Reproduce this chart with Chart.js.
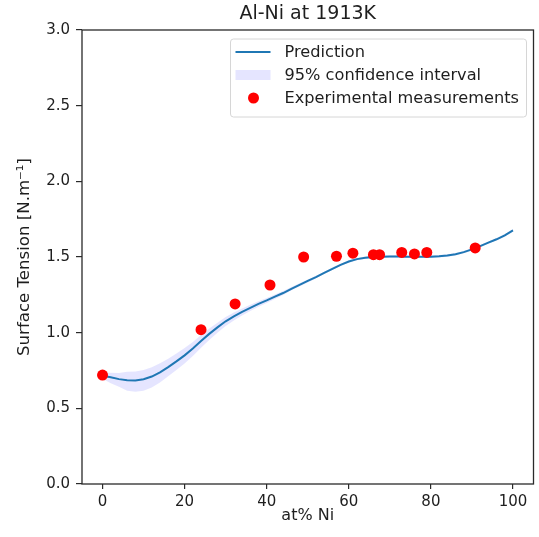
<!DOCTYPE html>
<html><head><meta charset="utf-8">
<script src="https://cdn.jsdelivr.net/npm/chart.js@4.4.0/dist/chart.umd.min.js"></script>
<style>html,body{margin:0;padding:0;background:#fff;}canvas{display:block;}</style>
</head><body>
<canvas id="c" width="539" height="537"></canvas>
<script>
const predX = [0,2,4,6,8,10,12,14,16,18,20,22,24,26,28,30,32,34,36,38,40,42,44,46,48,50,52,54,56,58,60,62,64,66,68,70,72,74,76,78,80,82,84,86,88,90,92,94,96,98,100];
const predY = [0.715,0.705,0.693,0.686,0.684,0.692,0.710,0.738,0.772,0.810,0.850,0.895,0.945,0.992,1.035,1.075,1.108,1.138,1.164,1.190,1.213,1.238,1.262,1.290,1.316,1.342,1.367,1.395,1.422,1.448,1.470,1.486,1.495,1.500,1.502,1.503,1.503,1.502,1.501,1.501,1.502,1.505,1.510,1.518,1.532,1.550,1.572,1.595,1.617,1.643,1.676];
const ciUpper = [0.735,0.735,0.733,0.741,0.744,0.754,0.772,0.798,0.827,0.862,0.898,0.939,0.985,1.027,1.066,1.103,1.133,1.160,1.184,1.208,1.229,1.252,1.275,1.302,1.327,1.352,1.376,1.403,1.430,1.456,1.478,1.494,1.503,1.508,1.510,1.511,1.511,1.510,1.509,1.509,1.510,1.513,1.518,1.526,1.540,1.558,1.580,1.603,1.625,1.652,1.685];
const ciLower = [0.695,0.665,0.643,0.616,0.609,0.617,0.638,0.670,0.712,0.753,0.797,0.846,0.900,0.952,1.000,1.044,1.081,1.114,1.143,1.171,1.196,1.223,1.249,1.278,1.305,1.332,1.358,1.387,1.414,1.440,1.462,1.478,1.487,1.492,1.494,1.495,1.495,1.494,1.493,1.493,1.494,1.497,1.502,1.510,1.524,1.542,1.564,1.587,1.609,1.634,1.667];
const expX = [0,24,32.3,40.8,49,57,61,66,67.5,72.9,76,79,90.8];
const expY = [0.72,1.02,1.19,1.315,1.50,1.505,1.525,1.515,1.515,1.53,1.52,1.53,1.56];
const xTicks = [0,20,40,60,80,100];
const yTicks = [0,0.5,1.0,1.5,2.0,2.5,3.0];
const titleText = 'Al-Ni at 1913K';
const xLabel = 'at% Ni';
const yLabel = 'Surface Tension [N.m\u207B\u00B9]';
const legendLabels = ['Prediction','95% confidence interval','Experimental measurements'];

const TXT = '#1e1e1e';
const FAM = "'DejaVu Sans', sans-serif";
Chart.defaults.font.family = FAM;
Chart.defaults.color = TXT;

const zip = (xs, ys) => xs.map((x, i) => ({x: x, y: ys[i]}));

const frameLegend = {
  id: 'frameLegend',
  afterDatasetsDraw(chart) {
    const ctx = chart.ctx, a = chart.chartArea;
    ctx.save();
    ctx.strokeStyle = '#2a2a2a';
    ctx.lineWidth = 1.3;
    ctx.strokeRect(a.left, a.top, a.right - a.left, a.bottom - a.top);
    const w = 296, h = 78;
    const x0 = a.right - 7 - w, y0 = a.top + 9;
    const r = 3;
    ctx.beginPath();
    ctx.moveTo(x0 + r, y0);
    ctx.lineTo(x0 + w - r, y0);
    ctx.arcTo(x0 + w, y0, x0 + w, y0 + r, r);
    ctx.lineTo(x0 + w, y0 + h - r);
    ctx.arcTo(x0 + w, y0 + h, x0 + w - r, y0 + h, r);
    ctx.lineTo(x0 + r, y0 + h);
    ctx.arcTo(x0, y0 + h, x0, y0 + h - r, r);
    ctx.lineTo(x0, y0 + r);
    ctx.arcTo(x0, y0, x0 + r, y0, r);
    ctx.closePath();
    ctx.fillStyle = 'rgba(255,255,255,0.8)';
    ctx.fill();
    ctx.strokeStyle = '#d6d6d6';
    ctx.lineWidth = 1;
    ctx.stroke();
    const ds = chart.data.datasets;
    const rows = [y0 + 13, y0 + 36, y0 + 59];
    ctx.strokeStyle = ds[2].borderColor;
    ctx.lineWidth = ds[2].borderWidth;
    ctx.beginPath();
    ctx.moveTo(x0 + 5, rows[0]);
    ctx.lineTo(x0 + 40, rows[0]);
    ctx.stroke();
    ctx.fillStyle = ds[1].backgroundColor;
    ctx.fillRect(x0 + 5, rows[1] - 5, 35, 10);
    ctx.fillStyle = ds[3].backgroundColor;
    ctx.beginPath();
    ctx.arc(x0 + 23, rows[2], 5.5, 0, Math.PI * 2);
    ctx.fill();
    ctx.fillStyle = TXT;
    ctx.font = '16.2px ' + FAM;
    ctx.textBaseline = 'middle';
    ctx.textAlign = 'left';
    legendLabels.forEach((t, i) => ctx.fillText(t, x0 + 54, rows[i] + 1));
    ctx.restore();
  }
};

new Chart(document.getElementById('c'), {
  type: 'scatter',
  data: {
    datasets: [
      {label: 'ci-lower', data: zip(predX, ciLower), showLine: true, pointRadius: 0,
       borderWidth: 0, borderColor: 'rgba(0,0,0,0)', fill: false, order: 3},
      {label: legendLabels[1], data: zip(predX, ciUpper), showLine: true, pointRadius: 0,
       borderWidth: 0, borderColor: 'rgba(0,0,0,0)', backgroundColor: 'rgba(0,0,255,0.1)', fill: '-1', order: 3},
      {label: legendLabels[0], data: zip(predX, predY), showLine: true, pointRadius: 0,
       borderColor: '#1f77b4', borderWidth: 2, fill: false, order: 2},
      {label: legendLabels[2], data: zip(expX, expY), showLine: false, pointRadius: 5.5,
       backgroundColor: '#ff0000', borderColor: '#ff0000', borderWidth: 0, order: 1}
    ]
  },
  options: {
    responsive: false,
    animation: false,
    devicePixelRatio: 1,
    layout: {padding: {left: 0, right: 3, top: 0, bottom: 0}},
    plugins: {
      legend: {display: false},
      tooltip: {enabled: false},
      title: {display: true, text: titleText, fullSize: false, color: TXT,
              font: {size: 19, weight: 'normal', family: FAM}, padding: {top: 2.6, bottom: 4.6}}
    },
    scales: {
      x: {
        type: 'linear', min: -5, max: 105,
        afterBuildTicks: (s) => { s.ticks = xTicks.map(v => ({value: v})); },
        afterFit: (s) => { s.height = 53; },
        ticks: {color: TXT, font: {size: 15}, padding: 4, maxRotation: 0, autoSkip: false,
                callback: (v) => String(v)},
        grid: {drawOnChartArea: false, drawTicks: true, tickLength: 5, color: '#2a2a2a', lineWidth: 1.2},
        border: {display: false},
        title: {display: true, text: xLabel, color: TXT, font: {size: 16}, padding: {top: 0, bottom: 11.4}}
      },
      y: {
        type: 'linear', min: 0, max: 3,
        afterBuildTicks: (s) => { s.ticks = yTicks.map(v => ({value: v})); },
        afterFit: (s) => { s.width = 82; },
        ticks: {color: TXT, font: {size: 15}, padding: 6, autoSkip: false,
                callback: (v) => Number(v).toFixed(1)},
        grid: {drawOnChartArea: false, drawTicks: true, tickLength: 6, color: '#2a2a2a', lineWidth: 1.2},
        border: {display: false},
        title: {display: true, text: yLabel, color: TXT, font: {size: 16.6}, padding: {top: 15.1, bottom: 0}}
      }
    }
  },
  plugins: [frameLegend]
});
</script>
</body></html>
